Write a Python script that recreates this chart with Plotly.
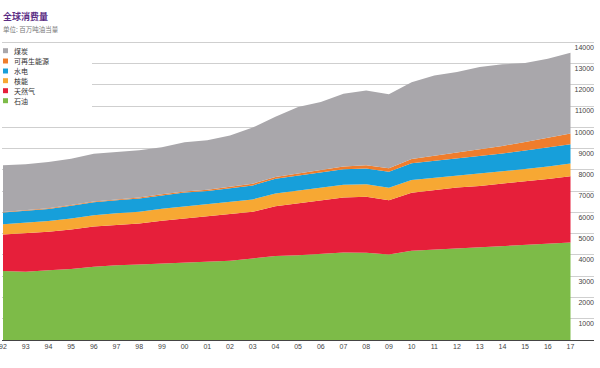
import plotly.graph_objects as go

years = list(range(1992, 2018))
tick_labels = [f"{y % 100:02d}" for y in years]

oil = [3240, 3210, 3285, 3335, 3440, 3520, 3550, 3600, 3645, 3680, 3725, 3835, 3945,
       3990, 4070, 4115, 4100, 4020, 4195, 4255, 4305, 4350, 4410, 4475, 4540, 4585]
gas = [1720, 1800, 1800, 1860, 1895, 1890, 1925, 2005, 2065, 2110, 2175, 2190, 2345,
       2425, 2505, 2585, 2630, 2550, 2725, 2785, 2865, 2895, 2930, 2985, 3030, 3115]
nuclear = [480, 495, 505, 520, 535, 545, 555, 570, 580, 590, 590, 585, 600,
           610, 605, 600, 595, 590, 600, 580, 550, 555, 565, 575, 585, 600]
hydro = [550, 555, 575, 600, 610, 615, 620, 625, 640, 630, 650, 660, 690,
         700, 720, 730, 740, 750, 790, 800, 830, 860, 870, 875, 895, 910]
renewables = [25, 27, 30, 33, 36, 40, 45, 50, 55, 60, 70, 80, 90,
              100, 115, 130, 150, 165, 200, 240, 275, 310, 350, 400, 450, 500]
coal = [2200, 2175, 2175, 2180, 2245, 2230, 2225, 2210, 2315, 2320, 2410, 2640, 2830,
        3130, 3175, 3420, 3520, 3475, 3615, 3780, 3775, 3865, 3835, 3710, 3725, 3795]

series_names = ["石油", "天然气", "核能", "水电", "可再生能源", "煤炭"]
series_values = [oil, gas, nuclear, hydro, renewables, coal]
series_colors = ["#7dbb48", "#e61f3a", "#f7a833", "#179fda", "#ef7d2c", "#a9a7ab"]

y_ticks = list(range(1000, 15000, 1000))
y_tick_labels = [str(v) for v in y_ticks]

FONT = "Liberation Sans, Arial, Noto Sans CJK SC, sans-serif"
CJK = "Noto Sans CJK SC, Liberation Sans, sans-serif"

fig = go.Figure()
for name, vals, col in zip(series_names, series_values, series_colors):
    fig.add_trace(go.Scatter(
        x=years, y=vals, name=name, mode="lines", stackgroup="one",
        line=dict(width=0, color=col), fillcolor=col, showlegend=False,
    ))

# pixel helpers for plot geometry
L, R, T, B = 2, 6, 38, 28
W, H = 600, 368
pw, ph = W - L - R, H - T - B


def px(x):
    return (x - L) / pw


def py(y):
    return (H - B - y) / ph


px_per_year = 22.7
x0 = 1992 - 1 / px_per_year
x1 = x0 + pw / px_per_year

fig.update_layout(
    width=W, height=H,
    margin=dict(l=L, r=R, t=T, b=B, autoexpand=False),
    paper_bgcolor="white", plot_bgcolor="white",
    font=dict(family=FONT, size=7, color="#333333"),
    xaxis=dict(
        range=[x0, x1], tickvals=years, ticktext=tick_labels,
        showgrid=False, zeroline=False, showline=True, linecolor="#444444", linewidth=1,
        ticks="", tickfont=dict(size=7, color="#444444"),
        ticklabeloverflow="allow", automargin=False,
    ),
    yaxis=dict(
        range=[0, 14200], tickvals=y_ticks, ticktext=y_tick_labels,
        anchor="free", position=1, side="left",
        ticklabelposition="outside bottom", ticklabeloverflow="allow",
        showgrid=True, gridcolor="#cfcfcf", gridwidth=1, zeroline=False,
        showline=False, ticks="", tickfont=dict(size=7, color="#444444"),
        automargin=False,
    ),
    showlegend=False,
)

shapes = []
annotations = []
# white legend background covering gridlines
shapes.append(dict(type="rect", xref="paper", yref="paper",
                   x0=px(-2), x1=px(92), y0=py(109), y1=py(44),
                   fillcolor="white", line=dict(width=0), layer="above"))

legend_order = ["煤炭", "可再生能源", "水电", "核能", "天然气", "石油"]
legend_y = [50.7, 61, 71, 80.7, 90.7, 100.7]
for name, yy in zip(legend_order, legend_y):
    col = series_colors[series_names.index(name)]
    shapes.append(dict(type="rect", xref="paper", yref="paper",
                       x0=px(3), x1=px(8), y0=py(yy + 2.5), y1=py(yy - 2.5),
                       fillcolor=col, line=dict(width=0), layer="above"))
    annotations.append(dict(text=name, xref="paper", yref="paper", x=px(12), y=py(yy),
                            xanchor="left", yanchor="middle", showarrow=False,
                            font=dict(family=CJK, size=7, color="#333333")))

annotations.append(dict(text="<b>全球消费量</b>", xref="paper", yref="paper", x=px(1), y=py(16),
                        xanchor="left", yanchor="middle", showarrow=False,
                        font=dict(family=CJK, size=9, color="#5b2d84")))
annotations.append(dict(text="单位: 百万吨油当量", xref="paper", yref="paper", x=px(1), y=py(29),
                        xanchor="left", yanchor="middle", showarrow=False,
                        font=dict(family=CJK, size=6.5, color="#777777")))

fig.update_layout(shapes=shapes, annotations=annotations)

fig.write_html(
    "out.html",
    config={"displayModeBar": False},
    post_script="document.body.style.margin='0';document.body.style.padding='0';",
)
